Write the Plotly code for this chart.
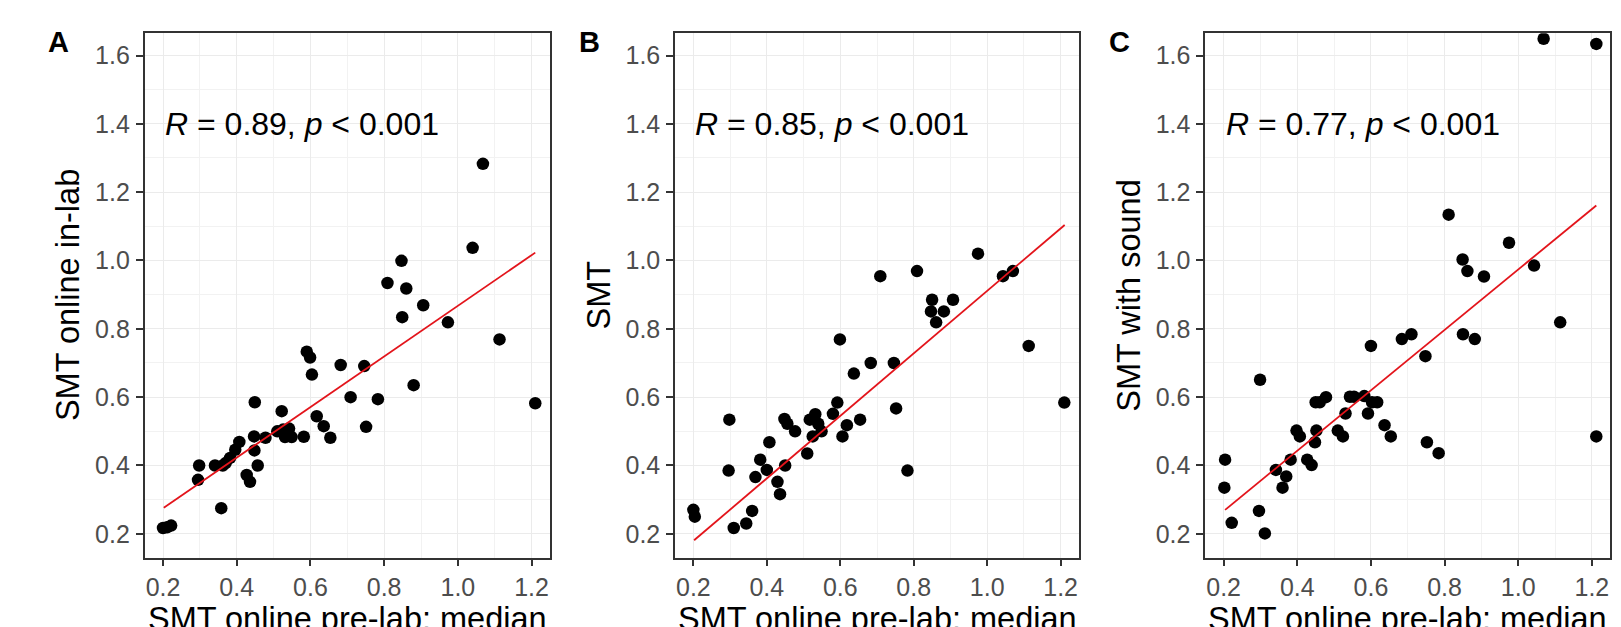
import plotly.graph_objects as go

# ---------------- data ----------------
a_x = [1.040, 1.068, 0.847, 0.809, 0.860, 0.906, 0.849, 0.973, 1.113, 0.590, 0.599, 0.604,
       0.682, 0.746, 0.880, 0.709, 0.783, 1.210, 0.449, 0.522, 0.617, 0.636, 0.751, 0.654,
       0.582, 0.510, 0.526, 0.542, 0.531, 0.549, 0.447, 0.478, 0.407, 0.396, 0.448, 0.382,
       0.370, 0.341, 0.298, 0.457, 0.295, 0.427, 0.436, 0.358, 0.200, 0.211, 0.222, 0.362]
a_y = [1.037, 1.283, 0.999, 0.934, 0.918, 0.869, 0.834, 0.819, 0.769, 0.733, 0.716, 0.666,
       0.694, 0.691, 0.635, 0.600, 0.594, 0.582, 0.585, 0.559, 0.544, 0.515, 0.513, 0.481,
       0.484, 0.500, 0.505, 0.508, 0.483, 0.483, 0.485, 0.481, 0.469, 0.446, 0.444, 0.422,
       0.407, 0.400, 0.400, 0.400, 0.358, 0.372, 0.352, 0.275, 0.217, 0.219, 0.224, 0.400]

b_x = [0.975, 0.809, 0.709, 1.043, 1.070, 0.850, 0.907, 0.847, 0.882, 0.861, 0.599, 1.113,
       0.683, 0.746, 0.637, 0.592, 1.210, 0.752, 0.298, 0.448, 0.456, 0.477, 0.517, 0.532,
       0.540, 0.549, 0.525, 0.580, 0.654, 0.618, 0.606, 0.407, 0.510, 0.382, 0.400, 0.450,
       0.296, 0.783, 0.369, 0.429, 0.436, 0.360, 0.344, 0.310, 0.200, 0.204]
b_y = [1.020, 0.969, 0.954, 0.954, 0.969, 0.885, 0.885, 0.851, 0.851, 0.819, 0.769, 0.750,
       0.700, 0.700, 0.669, 0.584, 0.584, 0.567, 0.534, 0.536, 0.522, 0.500, 0.534, 0.550,
       0.522, 0.500, 0.485, 0.551, 0.534, 0.518, 0.485, 0.468, 0.435, 0.417, 0.387, 0.400,
       0.385, 0.385, 0.366, 0.352, 0.316, 0.267, 0.230, 0.217, 0.270, 0.250]

c_x = [1.069, 1.212, 0.811, 0.975, 0.849, 0.862, 0.907, 1.043, 1.114, 0.850, 0.882, 0.684,
       0.710, 0.600, 0.748, 0.299, 0.450, 0.461, 0.478, 0.543, 0.554, 0.582, 0.603, 0.617,
       0.531, 0.592, 0.637, 0.654, 0.752, 0.784, 1.212, 0.398, 0.407, 0.452, 0.448, 0.510,
       0.524, 0.427, 0.439, 0.382, 0.342, 0.370, 0.360, 0.204, 0.202, 0.296, 0.222, 0.312]
c_y = [1.649, 1.634, 1.134, 1.052, 1.003, 0.969, 0.953, 0.985, 0.819, 0.784, 0.770, 0.770,
       0.784, 0.750, 0.720, 0.651, 0.585, 0.585, 0.600, 0.601, 0.601, 0.603, 0.585, 0.585,
       0.552, 0.552, 0.518, 0.485, 0.468, 0.436, 0.485, 0.502, 0.485, 0.502, 0.468, 0.502,
       0.485, 0.417, 0.401, 0.417, 0.387, 0.368, 0.335, 0.417, 0.335, 0.267, 0.232, 0.201]

# fitted regression lines (end points)
fit_a_x = [0.202, 1.210]
fit_a_y = [0.276, 1.023]
fit_b_x = [0.202, 1.211]
fit_b_y = [0.181, 1.104]
fit_c_x = [0.204, 1.212]
fit_c_y = [0.270, 1.161]

panel_letters = ["A", "B", "C"]
y_titles = ["SMT online in-lab", "SMT", "SMT with sound"]
x_title = "SMT online pre-lab: median"
stats = ["0.89", "0.85", "0.77"]
tick_vals = [0.2, 0.4, 0.6, 0.8, 1.0, 1.2, 1.4, 1.6]

# ---------------- layout geometry ----------------
OFF = 8                      # page body margin
W, H = 1621 - OFF, 627 - OFF
FONT = "Liberation Sans, Arial, sans-serif"


def px_x(p):
    return (p - OFF) / W


def px_y(p):
    return 1 - (p - OFF) / H


panel_px = [(144.6, 550.0), (675.0, 1079.0), (1205.2, 1610.3)]
x_domains = [[px_x(l), px_x(r)] for l, r in panel_px]
y_domain = [px_y(557.7), px_y(33.3)]

fig = go.Figure()

series = [(a_x, a_y, fit_a_x, fit_a_y), (b_x, b_y, fit_b_x, fit_b_y), (c_x, c_y, fit_c_x, fit_c_y)]
for i, (px, py, fx, fy) in enumerate(series):
    sfx = "" if i == 0 else str(i + 1)
    fig.add_trace(go.Scatter(x=px, y=py, mode="markers", xaxis="x" + sfx, yaxis="y" + sfx,
                             marker=dict(color="black", size=12.5, line=dict(width=0)),
                             showlegend=False, hoverinfo="skip"))
    fig.add_trace(go.Scatter(x=fx, y=fy, mode="lines", xaxis="x" + sfx, yaxis="y" + sfx,
                             line=dict(color="#E3141B", width=1.8),
                             showlegend=False, hoverinfo="skip"))

axis_common = dict(
    showgrid=True, gridcolor="#EBEBEB", gridwidth=1.4,
    minor=dict(showgrid=True, gridcolor="#F2F2F2", gridwidth=0.8, dtick=0.1),
    showline=True, mirror=True, linecolor="#333333", linewidth=1.5,
    ticks="outside", ticklen=7, tickwidth=1.5, tickcolor="#333333",
    tickfont=dict(family=FONT, size=25, color="#4D4D4D"),
    tickformat=".1f", zeroline=False,
)

annotations = []
for i in range(3):
    sfx = "" if i == 0 else str(i + 1)
    xa = dict(axis_common, domain=x_domains[i], range=[0.15, 1.25],
              tickvals=tick_vals[:6], anchor="y" + sfx, ticklabelstandoff=0)
    ya = dict(axis_common, domain=y_domain, range=[0.13, 1.665],
              tickvals=tick_vals, anchor="x" + sfx, ticklabelstandoff=1)
    fig.layout["xaxis" + sfx] = xa
    fig.layout["yaxis" + sfx] = ya

    left_px, right_px = panel_px[i]
    # panel letter
    annotations.append(dict(text="<b>%s</b>" % panel_letters[i], xref="paper", yref="paper",
                            x=px_x(left_px - 86), y=px_y(42.5), xanchor="center", yanchor="middle",
                            showarrow=False, font=dict(family=FONT, size=29, color="black")))
    # y title
    annotations.append(dict(text=y_titles[i], xref="paper", yref="paper",
                            x=px_x(left_px - 77), y=(y_domain[0] + y_domain[1]) / 2,
                            xanchor="center", yanchor="middle", textangle=-90, showarrow=False,
                            font=dict(family=FONT, size=32.5, color="black")))
    # x title
    annotations.append(dict(text=x_title, xref="paper", yref="paper",
                            x=px_x((left_px + right_px) / 2), y=px_y(619.0),
                            xanchor="center", yanchor="middle", showarrow=False,
                            font=dict(family=FONT, size=32.5, color="black")))
    # correlation label
    annotations.append(dict(text="<i>R</i> = %s, <i>p</i> &lt; 0.001" % stats[i],
                            xref="x" + sfx, yref="y" + sfx, x=0.2, y=1.4,
                            xanchor="left", yanchor="middle", showarrow=False,
                            font=dict(family=FONT, size=32, color="black")))

fig.update_layout(
    width=W, height=H,
    margin=dict(l=0, r=0, t=0, b=0),
    paper_bgcolor="white", plot_bgcolor="white",
    annotations=annotations,
    showlegend=False,
)

fig.write_html("out.html")
